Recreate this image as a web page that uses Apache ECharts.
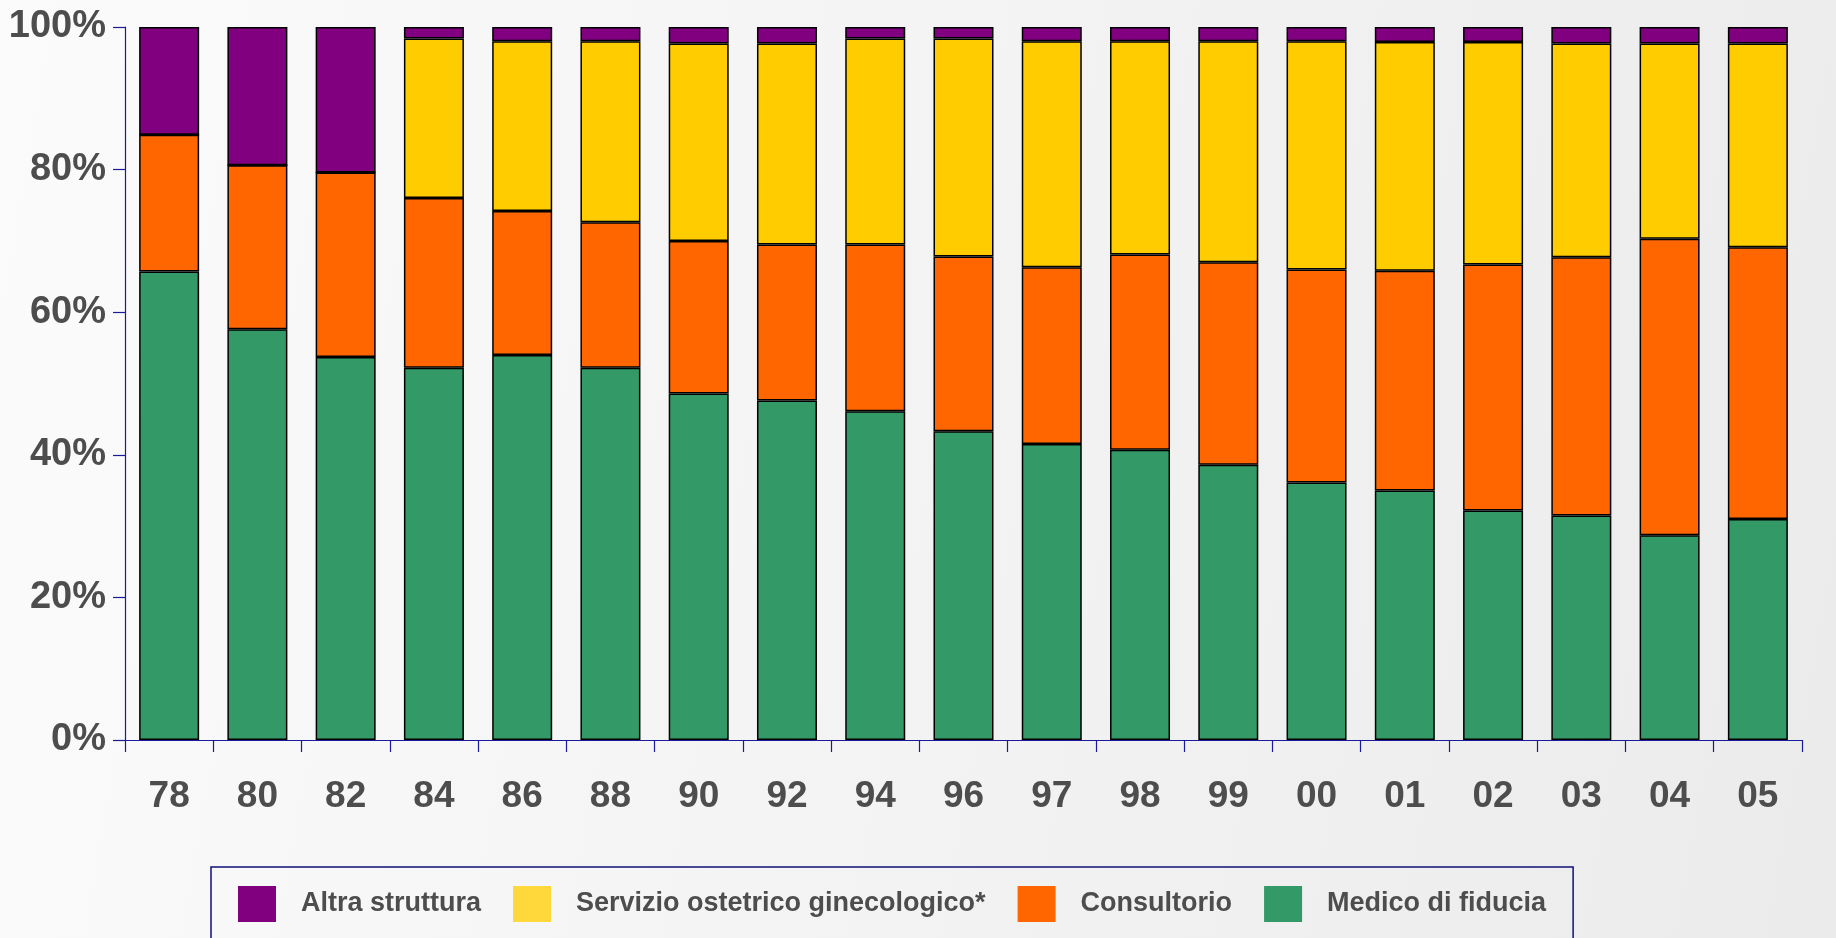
<!DOCTYPE html>
<html>
<head>
<meta charset="utf-8">
<script src="https://cdn.jsdelivr.net/npm/echarts@6/dist/echarts.min.js"></script>
<style>
  html, body { margin: 0; padding: 0; }
  body { background: linear-gradient(100deg, #fbfbfb 0%, #f4f4f4 45%, #ebebeb 100%); }
  #chart { width: 1836px; height: 938px; }
</style>
</head>
<body>
<div id="chart"></div>
<script>
// anni (etichette asse x)
const years = ['78', '80', '82', '84', '86', '88', '90', '92', '94', '96', '97', '98', '99', '00', '01', '02', '03', '04', '05'];

// quote percentuali per struttura, dal basso verso l'alto
const medico      = [65.7, 57.6, 53.7, 52.2, 54.0, 52.2, 48.6, 47.6, 46.1, 43.3, 41.5, 40.7, 38.6, 36.1, 35.0, 32.2, 31.5, 28.7, 31.0];
const consultorio = [19.2, 23.0, 25.9, 23.8, 20.2, 20.4, 21.4, 21.9, 23.4, 24.5, 24.8, 27.4, 28.4, 29.9, 30.8, 34.5, 36.2, 41.6, 38.1];
const servizio    = [0, 0, 0, 22.4, 23.8, 25.4, 27.7, 28.2, 28.9, 30.6, 31.7, 29.9, 31.0, 32.0, 32.1, 31.2, 30.0, 27.4, 28.6];
const altra       = [15.1, 19.4, 20.4, 1.6, 2.0, 2.0, 2.3, 2.3, 1.6, 1.6, 2.0, 2.0, 2.0, 2.0, 2.1, 2.1, 2.3, 2.3, 2.3];

const yTicks = [0, 20, 40, 60, 80, 100];

const FONT = "'Liberation Sans Narrow', 'Arial Narrow', 'Liberation Sans', Arial, sans-serif";
const TXT = '#4d4d4d';
const NAVY = '#1a1a9a';

function barSeries(name, data, color) {
  return {
    name, type: 'bar', stack: 'tot', data,
    barWidth: 60,
    itemStyle: { color, borderColor: '#000', borderWidth: 1.5 },
  };
}

const chart = echarts.init(document.getElementById('chart'), null, { renderer: 'canvas' });
chart.setOption({
  backgroundColor: 'transparent',
  animation: false,
  grid: { left: 125, right: 34, top: 27, bottom: 198 },
  legend: {
    left: 211, top: 867,
    padding: [19, 27, 30, 27],
    borderColor: '#10107a', borderWidth: 1.5,
    itemWidth: 38, itemHeight: 36, itemGap: 32,
    icon: 'rect',
    textStyle: { fontFamily: FONT, fontWeight: 'bold', fontSize: 27, color: TXT, padding: [0, 0, 0, 20] },
    data: [
      { name: 'Altra struttura', itemStyle: { color: '#800080', borderWidth: 0 } },
      { name: 'Servizio ostetrico ginecologico*', itemStyle: { color: '#ffd93b', borderWidth: 0 } },
      { name: 'Consultorio', itemStyle: { color: '#ff6600', borderWidth: 0 } },
      { name: 'Medico di fiducia', itemStyle: { color: '#339966', borderWidth: 0 } },
    ],
  },
  xAxis: {
    type: 'category', data: years,
    axisLine: { lineStyle: { color: NAVY, width: 1.2 } },
    axisTick: { show: true, length: 12, lineStyle: { color: NAVY, width: 1.2 } },
    axisLabel: { fontFamily: FONT, fontWeight: 'bold', fontSize: 37, color: TXT, margin: 38 },
  },
  yAxis: {
    type: 'value', min: yTicks[0], max: yTicks[yTicks.length - 1], interval: 20,
    axisLine: { show: true, lineStyle: { color: NAVY, width: 1.2 } },
    axisTick: { show: true, length: 12, lineStyle: { color: NAVY, width: 1.2 } },
    splitLine: { show: false },
    axisLabel: { fontFamily: FONT, fontWeight: 'bold', fontSize: 38, color: TXT, margin: 19, formatter: '{value}%' },
  },
  series: [
    barSeries('Medico di fiducia', medico, '#339966'),
    barSeries('Consultorio', consultorio, '#ff6600'),
    barSeries('Servizio ostetrico ginecologico*', servizio, '#ffcc00'),
    barSeries('Altra struttura', altra, '#800080'),
  ],
});
window.addEventListener('resize', () => chart.resize());
</script>
</body>
</html>
